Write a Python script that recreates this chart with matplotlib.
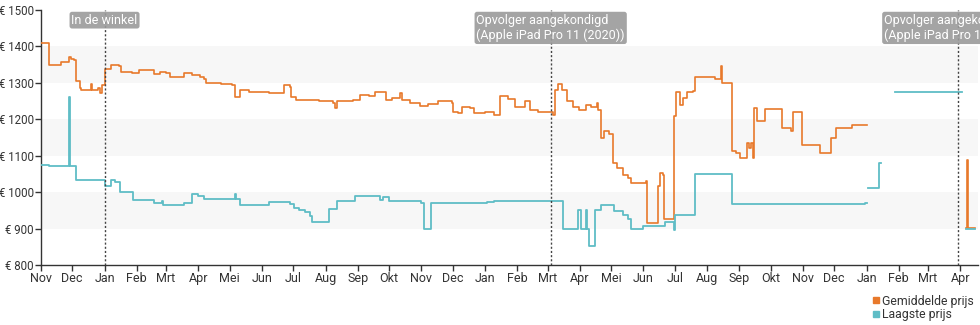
import pandas as pd
import matplotlib
matplotlib.use('Agg')
import matplotlib.pyplot as plt
import matplotlib.dates as mdates
import matplotlib.ticker as ticker
from matplotlib.lines import Line2D

# Gemiddelde prijs (None = geen data)
avg_dates = [
    '2018-11-01', '2018-11-09', '2018-11-20', '2018-11-28', '2018-11-30', '2018-12-03',
    '2018-12-05', '2018-12-08', '2018-12-09', '2018-12-19', '2018-12-20', '2018-12-26',
    '2018-12-28', '2018-12-30', '2019-01-01', '2019-01-07', '2019-01-15', '2019-01-17',
    '2019-01-27', '2019-02-03', '2019-02-17', '2019-02-23', '2019-03-01', '2019-03-05',
    '2019-03-18', '2019-03-26', '2019-04-03', '2019-04-06', '2019-04-08', '2019-04-23',
    '2019-05-03', '2019-05-06', '2019-05-11', '2019-05-20', '2019-06-08', '2019-06-22',
    '2019-06-28', '2019-06-29', '2019-07-04', '2019-07-17', '2019-07-26', '2019-08-08',
    '2019-08-10', '2019-08-12', '2019-08-27', '2019-09-03', '2019-09-12', '2019-09-17',
    '2019-09-28', '2019-10-04', '2019-10-11', '2019-10-13', '2019-10-21', '2019-10-31',
    '2019-11-07', '2019-11-17', '2019-11-30', '2019-12-01', '2019-12-06', '2019-12-10',
    '2019-12-18', '2019-12-21', '2020-01-01', '2020-01-10', '2020-01-15', '2020-01-23',
    '2020-01-30', '2020-02-08', '2020-02-13', '2020-02-21', '2020-03-03', '2020-03-06',
    '2020-03-08', '2020-03-11', '2020-03-15', '2020-03-20', '2020-03-25', '2020-03-31',
    '2020-04-07', '2020-04-12', '2020-04-17', '2020-04-18', '2020-04-21', '2020-04-24',
    '2020-04-29', '2020-05-03', '2020-05-07', '2020-05-12', '2020-05-17', '2020-05-20',
    '2020-06-03', '2020-06-04', '2020-06-15', '2020-06-17', '2020-06-20', '2020-06-21',
    '2020-06-30', '2020-07-02', '2020-07-06', '2020-07-09', '2020-07-13', '2020-07-19',
    '2020-07-20', '2020-08-09', '2020-08-14', '2020-08-15', '2020-08-25', '2020-08-29',
    '2020-09-02', '2020-09-08', '2020-09-10', '2020-09-12', '2020-09-14', '2020-09-15',
    '2020-09-18', '2020-09-26', '2020-10-12', '2020-10-21', '2020-10-22', '2020-10-31',
    '2020-11-17', '2020-11-28', '2020-12-03', '2020-12-18', '2020-12-31', '2021-01-01',
    '2021-04-06', '2021-04-07', '2021-04-08', '2021-04-15',
]
avg_prices = [
    1410, 1349, 1358, 1372, 1365, 1362,
    1304, 1285, 1280, 1297, 1280, 1285,
    1272, 1295, 1338, 1349, 1345, 1329,
    1327, 1334, 1325, 1331, 1327, 1316,
    1327, 1322, 1317, 1310, 1299, 1297,
    1295, 1262, 1281, 1276, 1272, 1295,
    1290, 1262, 1253, 1252, 1249, 1246,
    1231, 1249, 1253, 1267, 1264, 1276,
    1253, 1258, 1272, 1252, 1246, 1237,
    1242, 1249, 1246, 1221, 1217, 1235,
    1231, 1217, 1221, 1212, 1264, 1255,
    1235, 1249, 1226, 1221, 1219, 1212,
    1281, 1297, 1281, 1249, 1235, 1226,
    1240, 1235, 1246, 1226, 1148, 1167,
    1160, 1080, 1066, 1048, 1039, 1025,
    1030, 916, 1016, 1053, 1048, 925,
    1208, 1276, 1240, 1258, 1276, 1279,
    1317, 1310, 1345, 1299, 1112, 1107,
    1095, 1135, 1121, 1135, 1094, 1231,
    1194, 1228, 1176, 1169, 1221, 1130,
    1107, 1148, 1176, 1183, 1183, None,
    902, 1089, 902, 902,
]

# Laagste prijs
low_dates = [
    '2018-11-01', '2018-11-09', '2018-11-28', '2018-11-29', '2018-12-05', '2019-01-01',
    '2019-01-07', '2019-01-11', '2019-01-16', '2019-01-28', '2019-02-17', '2019-02-25',
    '2019-02-26', '2019-03-18', '2019-03-26', '2019-04-01', '2019-04-06', '2019-05-06',
    '2019-05-07', '2019-05-11', '2019-06-08', '2019-06-28', '2019-07-02', '2019-07-07',
    '2019-07-12', '2019-07-17', '2019-07-19', '2019-08-04', '2019-08-12', '2019-08-29',
    '2019-09-22', '2019-09-25', '2019-10-01', '2019-11-01', '2019-11-03', '2019-11-10',
    '2020-01-03', '2020-01-10', '2020-03-16', '2020-03-30', '2020-04-02', '2020-04-07',
    '2020-04-08', '2020-04-10', '2020-04-16', '2020-04-21', '2020-05-04', '2020-05-12',
    '2020-05-17', '2020-05-20', '2020-06-01', '2020-06-22', '2020-06-30', '2020-07-01',
    '2020-07-20', '2020-08-25', '2020-12-31', '2021-01-01', '2021-01-02', '2021-01-13',
    '2021-01-14', '2021-01-15', '2021-01-28', '2021-04-02', '2021-04-03', '2021-04-06',
    '2021-04-15',
]
low_prices = [
    1075, 1071, 1262, 1071, 1034, 1018,
    1034, 1027, 1000, 979, 970, 975,
    966, 970, 996, 989, 981, 995,
    981, 966, 973, 968, 957, 952,
    945, 934, 917, 955, 975, 989,
    979, 987, 975, 970, 899, 970,
    972, 975, 899, 950, 899, 950,
    899, 851, 950, 964, 948, 938,
    925, 899, 906, 917, 897, 938,
    1050, 968, 969, None, 1011, 1080,
    1080, None, 1276, 1276, None, 900,
    900,
]

# Gebeurtenissen
event_dates = ['2019-01-01', '2020-03-04', '2021-03-30']
event_labels = ['In de winkel',
                'Opvolger aangekondigd\n(Apple iPad Pro 11 (2020))',
                'Opvolger aangekondigd\n(Apple iPad Pro 11 (2021))']

month_names = ['Jan', 'Feb', 'Mrt', 'Apr', 'Mei', 'Jun',
               'Jul', 'Aug', 'Sep', 'Okt', 'Nov', 'Dec']

orange = '#e8792b'
teal = '#5fbdc6'

plt.rcParams['font.family'] = ['Roboto', 'DejaVu Sans']

avg = pd.Series(avg_prices, index=pd.to_datetime(avg_dates), dtype=float)
low = pd.Series(low_prices, index=pd.to_datetime(low_dates), dtype=float)

fig = plt.figure(figsize=(9.8, 3.25), dpi=100)
ax = fig.add_axes([0.0418, 0.1846, 0.9562, 0.7846])

# alternating bands
for lo in (900, 1100, 1300):
    ax.axhspan(lo, lo + 100, color='#f7f7f7', zorder=0, lw=0)

ax.plot(avg.index, avg.values, drawstyle='steps-post', color=orange, lw=1.2, zorder=3)
ax.plot(low.index, low.values, drawstyle='steps-post', color=teal, lw=1.3, zorder=3)

ax.set_xlim(pd.Timestamp('2018-11-01'), pd.Timestamp('2021-04-18'))
ax.set_ylim(800, 1500)
ax.yaxis.set_major_locator(ticker.MultipleLocator(100))
ax.yaxis.set_major_formatter(ticker.FuncFormatter(lambda v, p: '€ %d' % v))

ax.xaxis.set_major_locator(mdates.MonthLocator())
ax.xaxis.set_major_formatter(ticker.FuncFormatter(
    lambda v, p: month_names[mdates.num2date(v).month - 1]))

for side in ('top', 'right'):
    ax.spines[side].set_visible(False)
for side in ('left', 'bottom'):
    ax.spines[side].set_color('#333333')
    ax.spines[side].set_linewidth(1.0)
ax.tick_params(axis='x', colors='#333333', labelsize=9, length=4, width=1, pad=1)
ax.tick_params(axis='y', colors='#333333', labelsize=8.3, length=4, width=1, pad=1)

for d, label in zip(event_dates, event_labels):
    t = pd.Timestamp(d)
    ax.axvline(t, color='#444444', lw=1, ls=(0, (1.5, 1.5)), zorder=4)
    ax.text(t, 1490, label, ha='center', va='top', ma='left', color='white',
            fontsize=9, linespacing=1.2, zorder=5, clip_on=False,
            bbox=dict(boxstyle='round,pad=0.15,rounding_size=0.2',
                      fc='#9a9a9a', ec='none', alpha=0.9))

handles = [Line2D([], [], marker='s', color=orange, ls='none', markersize=5),
           Line2D([], [], marker='s', color=teal, ls='none', markersize=5)]
fig.legend(handles, ['Gemiddelde prijs', 'Laagste prijs'], loc='upper right',
           bbox_to_anchor=(1.002, 0.12), frameon=False, fontsize=8.8,
           handlelength=0.6, handletextpad=0.2, labelspacing=0.05,
           borderpad=0.2, labelcolor='#333333')

fig.savefig('out.png', dpi=100)
